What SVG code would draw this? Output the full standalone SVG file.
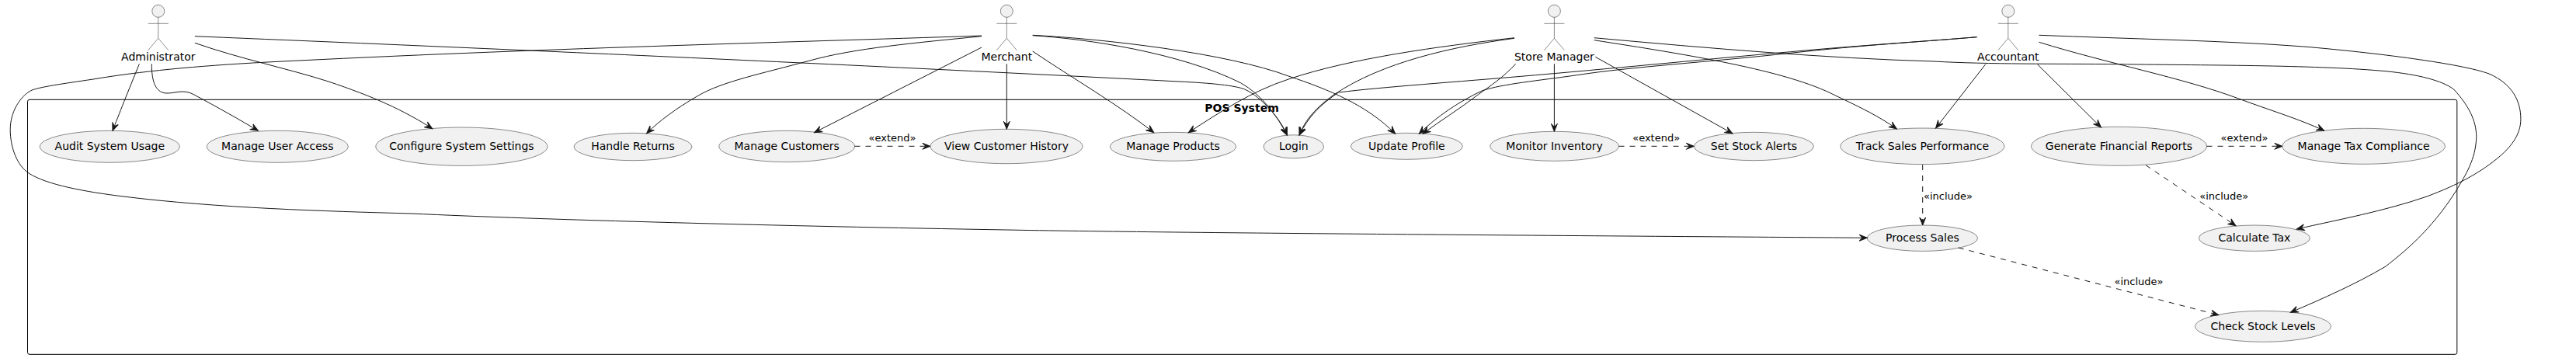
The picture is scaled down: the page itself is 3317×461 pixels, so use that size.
<svg xmlns="http://www.w3.org/2000/svg" width="3317" height="461" viewBox="0 0 3317 461">
<style>
text{font-family:"DejaVu Sans","Liberation Sans",sans-serif;font-size:14px;fill:#000;text-anchor:middle}
.lbl{font-size:13px}
.t{font-weight:bold}
.uc{fill:#F1F1F1;stroke:#181818;stroke-width:.5}
.head{fill:#F1F1F1;stroke:#181818;stroke-width:.5}
.body{fill:none;stroke:#181818;stroke-width:.5}
.c{fill:none;stroke:#181818;stroke-width:1;marker-end:url(#a)}
.d{stroke-dasharray:7,7}
</style>
<defs>
<marker id="a" markerUnits="userSpaceOnUse" markerWidth="14" markerHeight="12" refX="12" refY="6" orient="auto" overflow="visible"><path d="M12,6L2,2L6,6L2,10Z" fill="#181818" stroke="#181818" stroke-width="1"/></marker>
<g id="stick"><circle class="head" cx="0" cy="14.3" r="8"/><path class="body" d="M0,22.3V49.3M-13,30.3H13M0,49.3L-13,64.7M0,49.3L13,64.7"/></g>
</defs>
<rect id="pos-system" x="35.5" y="128.3" width="3128.3" height="328" rx="2.5" ry="2.5" fill="#fff" stroke="#000" stroke-width="1"/>
<text class="t" x="1599" y="144">POS System</text>
<g id="admin"><use href="#stick" x="203.8"/><text x="203.8" y="78">Administrator</text></g>
<g id="merchant"><use href="#stick" x="1296.3"/><text x="1296.3" y="78">Merchant</text></g>
<g id="manager"><use href="#stick" x="2001.4"/><text x="2001.4" y="78">Store Manager</text></g>
<g id="accountant"><use href="#stick" x="2585.8"/><text x="2585.8" y="78">Accountant</text></g>
<g id="uc1"><ellipse class="uc" cx="141.3" cy="188.8" rx="90" ry="20.5"/><text x="141.3" y="192.7">Audit System Usage</text></g>
<g id="uc2"><ellipse class="uc" cx="357.3" cy="188.8" rx="91" ry="20.5"/><text x="357.3" y="192.7">Manage User Access</text></g>
<g id="uc3"><ellipse class="uc" cx="594.4" cy="188.7" rx="110.6" ry="24.7"/><text x="594.4" y="192.7">Configure System Settings</text></g>
<g id="uc4"><ellipse class="uc" cx="815" cy="189" rx="76" ry="17.7"/><text x="815" y="192.7">Handle Returns</text></g>
<g id="uc5"><ellipse class="uc" cx="1013.2" cy="188.5" rx="87.4" ry="20.2"/><text x="1013.2" y="192.7">Manage Customers</text></g>
<g id="uc6"><ellipse class="uc" cx="1296" cy="188.5" rx="98" ry="22.2"/><text x="1296" y="192.7">View Customer History</text></g>
<g id="uc7"><ellipse class="uc" cx="1510.5" cy="188.8" rx="81" ry="18.5"/><text x="1510.5" y="192.7">Manage Products</text></g>
<g id="uc8"><ellipse class="uc" cx="1665.8" cy="188.8" rx="38.7" ry="15"/><text x="1665.8" y="192.7">Login</text></g>
<g id="uc9"><ellipse class="uc" cx="1811.4" cy="188.3" rx="72" ry="17"/><text x="1811.4" y="192.7">Update Profile</text></g>
<g id="uc10"><ellipse class="uc" cx="2001.6" cy="188.3" rx="82.8" ry="19"/><text x="2001.6" y="192.7">Monitor Inventory</text></g>
<g id="uc11"><ellipse class="uc" cx="2258.4" cy="188.5" rx="77" ry="18.2"/><text x="2258.4" y="192.7">Set Stock Alerts</text></g>
<g id="uc12"><ellipse class="uc" cx="2475.4" cy="188.3" rx="105.6" ry="23.3"/><text x="2475.4" y="192.7">Track Sales Performance</text></g>
<g id="uc13"><ellipse class="uc" cx="2728.5" cy="188.3" rx="113" ry="25"/><text x="2728.5" y="192.7">Generate Financial Reports</text></g>
<g id="uc14"><ellipse class="uc" cx="3043.6" cy="188.3" rx="104.8" ry="23"/><text x="3043.6" y="192.7">Manage Tax Compliance</text></g>
<g id="uc15"><ellipse class="uc" cx="2475.4" cy="306.7" rx="71.2" ry="16.7"/><text x="2475.4" y="311">Process Sales</text></g>
<g id="uc16"><ellipse class="uc" cx="2902.9" cy="306.7" rx="71.5" ry="16.7"/><text x="2902.9" y="311">Calculate Tax</text></g>
<g id="uc17"><ellipse class="uc" cx="2914" cy="420.3" rx="87.4" ry="20"/><text x="2914" y="424.5">Check Stock Levels</text></g>
<g id="connectors">
<path class="c" d="M179.4,82.3C166,115 152,150 145,168.3"/>
<path class="c" d="M195.3,82.3C195.3,100 198,119 214,120C226,120.5 236,114 250,122C280,138 310,155 332.4,168.3"/>
<path class="c" d="M250.9,55.3C310,76 370,88 423,105C480,124 520,142 556.8,165.7"/>
<path class="c" d="M250.9,46.7C500,57 1000,78 1518,105C1560,107 1590,110 1602.8,115C1625,125 1650,155 1657.3,174"/>
<path class="c" d="M1264,46C1000,55 700,62 344,80C250,85 180,92 120,102C80,108 50,112 39.7,116.7C25,125 13.2,145 13.2,166.7C13.2,190 22,213 37,223C60,238 110,247 158.8,253C280,268 420,272 529,275C700,283 1000,291 1295.8,296C1500,300 2100,304 2404.2,306.3"/>
<path class="c" d="M1264,46.7C1180,55 1100,62 1041.7,78.3C980,95 930,105 898.8,123.3C870,140 850,155 832.6,171.7"/>
<path class="c" d="M1264,61L1048.6,170.7"/>
<path class="c" d="M1296.3,82.3V166.3"/>
<path class="c" d="M1329.7,66C1380,100 1440,135 1485.8,170.7"/>
<path class="c" d="M1329.7,45.7C1400,50 1520,68 1597.5,106.7C1625,122 1645,150 1657.3,174"/>
<path class="c" d="M1329.7,45.3C1420,50 1580,68 1660,98.3C1710,115 1760,135 1796.6,172.3"/>
<path class="c" d="M1950,48.7C1850,60 1740,75 1660,101.7C1610,118 1570,145 1530.3,170.7"/>
<path class="c" d="M1950,49.3C1870,60 1780,80 1718,121.7C1695,138 1680,155 1673.2,174"/>
<path class="c" d="M1951.7,82.3C1935,100 1920,110 1903.5,121.7C1880,140 1855,155 1832,172.3"/>
<path class="c" d="M2001.4,82.3V169.3"/>
<path class="c" d="M2054.3,73.3L2231,172"/>
<path class="c" d="M2052.7,51.7C2170,70 2300,90 2364,123.3C2395,138 2420,150 2442.3,166"/>
<path class="c" d="M2052.7,48.7C2200,62 2350,75 2490,79C2560,83 2650,82 2728,82.7C2850,84 2990,84 3072,91.7C3115,96 3145,104 3159.6,115C3178,135 3189,155 3188.7,176.7C3188,205 3175,225 3162,246.7C3130,297 3095,325 3072,343C3035,365 2990,385 2949.4,402.3"/>
<path class="c" d="M2545.6,47.7C2470,54 2400,58 2305.7,66.7C2200,76 2100,86 1977.6,96.7C1870,106 1780,112 1723.5,119C1700,135 1685,150 1673,174"/>
<path class="c" d="M2545.6,47.7C2470,54 2400,58 2305.7,68.3C2200,80 2100,86 2030.5,96.7C1980,104 1935,108 1908.8,116.7C1880,130 1850,150 1827.3,172.3"/>
<path class="c" d="M2556.7,82.7L2492.6,165"/>
<path class="c" d="M2623.4,82.7L2705.4,164"/>
<path class="c" d="M2625.5,54.3C2715,82 2810,100 2881.7,126.7C2920,141 2960,153 2992.8,168.3"/>
<path class="c" d="M2625.5,45.3C2740,50 2860,52 2966.4,60C3060,68 3170,82 3205,95C3235,108 3245.9,130 3245.9,153.3C3245.9,172 3235,187 3220.4,200C3195,222 3165,238 3125,253C3070,272 3010,283 2957.4,295"/>
<path class="c d" d="M1100.5,188.3H1197.9"/>
<path class="c d" d="M2084.5,188.3H2181.4"/>
<path class="c d" d="M2841.5,188.3H2938.9"/>
<path class="c d" d="M2475.7,212V290"/>
<path class="c d" d="M2763,212.7L2879,290.7"/>
<path class="c d" d="M2521.8,319L2856.8,405.7"/>
<text class="lbl" x="1149" y="182">«extend»</text>
<text class="lbl" x="2132.7" y="182">«extend»</text>
<text class="lbl" x="2890" y="182">«extend»</text>
<text class="lbl" x="2508.5" y="257">«include»</text>
<text class="lbl" x="2863.7" y="257">«include»</text>
<text class="lbl" x="2754" y="367">«include»</text>
</g>
</svg>
